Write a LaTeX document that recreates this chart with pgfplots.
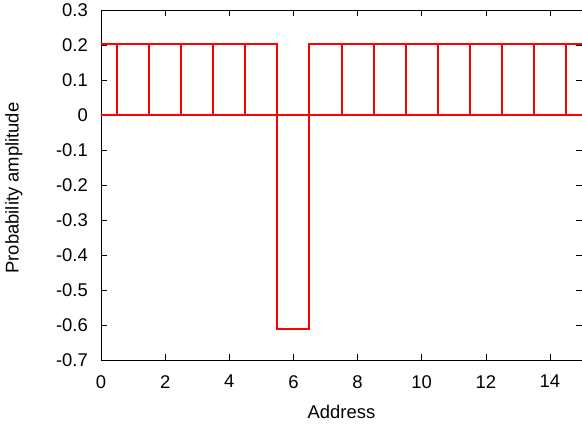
\documentclass[border=0pt]{standalone}
\usepackage{fontspec}
\setmainfont{Liberation Sans}
\usepackage{pgfplots}
\pgfplotsset{compat=1.18}
\usetikzlibrary{calc}
\definecolor{gpred}{RGB}{255,0,0}
\begin{document}
\begin{tikzpicture}
\begin{axis}[
  scale only axis, width=481bp, height=350bp,
  xmin=0, xmax=15, ymin=-0.7, ymax=0.3,
  xtick={0,2,4,6,8,10,12,14},
  ytick={-0.7,-0.6,-0.5,-0.4,-0.3,-0.2,-0.1,0,0.1,0.2,0.3},
  /pgf/number format/assume math mode=true,
  yticklabel style={/pgf/number format/fixed, /pgf/number format/precision=1},
  tick label style={font=\fontsize{18.5}{21}\selectfont, inner sep=0pt},
  xticklabel shift=15bp, yticklabel shift=13bp,
  tick align=inside, major tick length=6bp,
  tick style={black, line width=0.6bp},
  axis line style={line width=0.8bp},
  xlabel={Address}, ylabel={Probability amplitude},
  label style={font=\fontsize{18.5}{21}\selectfont, inner sep=0pt},
  xlabel style={at={(axis description cs:0.5,0)}, anchor=north, yshift=-45bp},
  ylabel style={at={($(axis description cs:0,0.5)+(-96bp,-3bp)$)}, anchor=north},
]
\addplot[ybar, bar width=1, draw=gpred, fill=white, fill opacity=0, line width=2bp] coordinates {
  (0,0.203) (1,0.203) (2,0.203) (3,0.203) (4,0.203) (5,0.203)
  (6,-0.612) (7,0.203) (8,0.203) (9,0.203) (10,0.203) (11,0.203)
  (12,0.203) (13,0.203) (14,0.203) (15,0.203)
};
\end{axis}
\pgfresetboundingbox
\path ($(current axis.south west)+(-101bp,-67bp)$) rectangle ($(current axis.north east)+(0bp,10bp)$);
\end{tikzpicture}
\end{document}
